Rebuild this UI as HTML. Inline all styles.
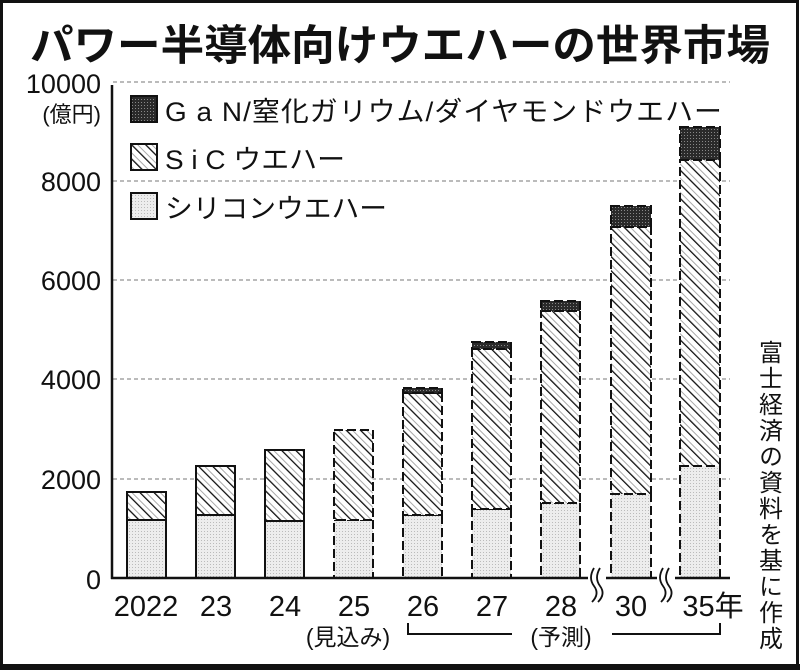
<!DOCTYPE html>
<html><head><meta charset="utf-8"><style>
html,body{margin:0;padding:0;background:#fff}
svg{display:block}
text{font-family:"Liberation Sans","Noto Sans CJK JP",sans-serif;fill:#111}
</style></head><body>
<svg width="800" height="670" viewBox="0 0 800 670" xmlns="http://www.w3.org/2000/svg">
<defs>
<pattern id="hat" patternUnits="userSpaceOnUse" width="10" height="10" patternTransform="rotate(-45)">
<rect width="10" height="10" fill="#fff"/>
<line x1="0" y1="0" x2="0" y2="10" stroke="#111" stroke-width="2.6"/>
<line x1="5" y1="0" x2="5" y2="10" stroke="#aaa" stroke-width="1"/>
</pattern>
<pattern id="dot" patternUnits="userSpaceOnUse" width="3" height="3">
<rect width="3" height="3" fill="#ededed"/><rect width="1" height="1" fill="#bbb"/>
</pattern>
<pattern id="dk" patternUnits="userSpaceOnUse" width="3" height="3">
<rect width="3" height="3" fill="#2a2a2a"/><rect width="1" height="1" fill="#888"/>
</pattern>
</defs>
<rect x="1.5" y="1.5" width="796" height="665" fill="#fff" stroke="#111" stroke-width="3"/>
<rect x="0" y="664" width="800" height="6" fill="#111"/>
<text x="400" y="60" font-size="42" font-weight="bold" text-anchor="middle" textLength="740" lengthAdjust="spacingAndGlyphs">パワー半導体向けウエハーの世界市場</text>
<!-- grid -->
<g stroke="#777" stroke-width="1" stroke-dasharray="4,3">
<line x1="113" y1="82" x2="730" y2="82"/>
<line x1="113" y1="181" x2="730" y2="181"/>
<line x1="113" y1="280" x2="730" y2="280"/>
<line x1="113" y1="379" x2="730" y2="379"/>
<line x1="113" y1="479" x2="730" y2="479"/>
</g>
<g font-size="27" text-anchor="end">
<text x="101" y="93">10000</text>
<text x="101" y="191">8000</text>
<text x="101" y="290">6000</text>
<text x="101" y="389">4000</text>
<text x="101" y="489">2000</text>
<text x="101" y="589">0</text>
</g>
<text x="101" y="122" font-size="22" text-anchor="end">(億円)</text>
<line x1="112" y1="85" x2="112" y2="579" stroke="#111" stroke-width="2.5"/>
<!-- legend -->
<rect x="131" y="96" width="26" height="26" fill="url(#dk)" stroke="#111" stroke-width="2"/>
<text x="165" y="121" font-size="27" letter-spacing="1" textLength="558" lengthAdjust="spacingAndGlyphs">G a N/窒化ガリウム/ダイヤモンドウエハー</text>
<rect x="131" y="144" width="26" height="26" fill="url(#hat)" stroke="#111" stroke-width="2"/>
<text x="165" y="169" font-size="27" textLength="180" lengthAdjust="spacingAndGlyphs">S i C ウエハー</text>
<rect x="131" y="193" width="26" height="26" fill="url(#dot)" stroke="#111" stroke-width="2"/>
<text x="165" y="218" font-size="27" textLength="222" lengthAdjust="spacingAndGlyphs">シリコンウエハー</text>
<!-- solid bars -->
<g stroke="#111" stroke-width="2">
<rect x="127" y="520" width="39" height="58" fill="url(#dot)"/>
<rect x="127" y="492" width="39" height="28" fill="url(#hat)"/>
<rect x="196" y="515" width="39" height="63" fill="url(#dot)"/>
<rect x="196" y="466" width="39" height="49" fill="url(#hat)"/>
<rect x="265" y="521" width="39" height="57" fill="url(#dot)"/>
<rect x="265" y="450" width="39" height="71" fill="url(#hat)"/>
</g>
<g stroke="#111" stroke-width="2" stroke-dasharray="9,4">
<rect x="334" y="520" width="39" height="58" fill="url(#dot)"/>
<rect x="334" y="430" width="39" height="90" fill="url(#hat)"/>
<rect x="403" y="515" width="39" height="63" fill="url(#dot)"/>
<rect x="403" y="393" width="39" height="122" fill="url(#hat)"/>
<rect x="403" y="388" width="39" height="5" fill="url(#dk)"/>
<rect x="472" y="509" width="39" height="69" fill="url(#dot)"/>
<rect x="472" y="349" width="39" height="160" fill="url(#hat)"/>
<rect x="472" y="342" width="39" height="7" fill="url(#dk)"/>
<rect x="541" y="503" width="39" height="75" fill="url(#dot)"/>
<rect x="541" y="311" width="39" height="192" fill="url(#hat)"/>
<rect x="541" y="301" width="39" height="10" fill="url(#dk)"/>
<rect x="611" y="494" width="40" height="84" fill="url(#dot)"/>
<rect x="611" y="227" width="40" height="267" fill="url(#hat)"/>
<rect x="611" y="206" width="40" height="21" fill="url(#dk)"/>
<rect x="680" y="466" width="40" height="112" fill="url(#dot)"/>
<rect x="680" y="160" width="40" height="306" fill="url(#hat)"/>
<rect x="680" y="127" width="40" height="33" fill="url(#dk)"/>
</g>
<line x1="111" y1="578" x2="730" y2="578" stroke="#111" stroke-width="2.5"/>
<!-- break marks -->
<g stroke="#111" stroke-width="1.8" fill="none">
<rect x="588" y="565" width="18" height="40" fill="#fff" stroke="none"/>
<path d="M594 568 q-6 10 0 18 q6 8 -2 16"/><path d="M600 568 q-6 10 0 18 q6 8 -2 16"/>
<rect x="657" y="565" width="18" height="40" fill="#fff" stroke="none"/>
<path d="M663 568 q-6 10 0 18 q6 8 -2 16"/><path d="M669 568 q-6 10 0 18 q6 8 -2 16"/>
</g>
<g font-size="29" text-anchor="middle">
<text x="146" y="616">2022</text>
<text x="216" y="616">23</text>
<text x="285" y="616">24</text>
<text x="354" y="616">25</text>
<text x="423" y="616">26</text>
<text x="492" y="616">27</text>
<text x="561" y="616">28</text>
<text x="631" y="616">30</text>
<text x="713" y="616">35年</text>
</g>
<text x="348" y="645" font-size="23" text-anchor="middle">(見込み)</text>
<text x="561" y="645" font-size="23" text-anchor="middle">(予測)</text>
<path d="M408 623 V634 H512 M612 634 H720 V623" stroke="#111" stroke-width="2" fill="none"/>
<text font-size="24" writing-mode="tb" x="768" y="340" letter-spacing="2">富士経済の資料を基に作成</text>
</svg>
</body></html>
